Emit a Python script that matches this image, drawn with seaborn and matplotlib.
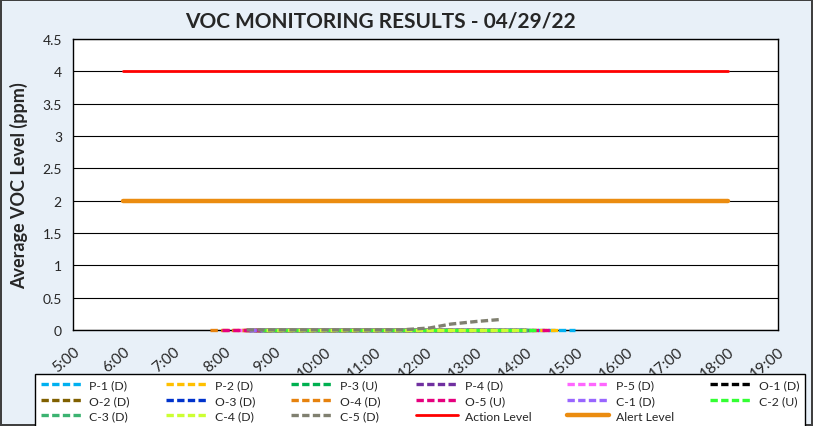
import pandas as pd
import matplotlib.pyplot as plt
import seaborn as sns

# sensor names and colours (legend order)
sensors = ['P-1 (D)', 'P-2 (D)', 'P-3 (U)', 'P-4 (D)', 'P-5 (D)', 'O-1 (D)',
           'O-2 (D)', 'O-3 (D)', 'O-4 (D)', 'O-5 (U)', 'C-1 (D)', 'C-2 (U)',
           'C-3 (D)', 'C-4 (D)', 'C-5 (D)']
colors = ['#00B0F0', '#FFC000', '#00B050', '#7030A0', '#FF66FF', '#000000',
          '#806000', '#0033CC', '#E6820E', '#E6007E', '#9966FF', '#33FF33',
          '#3CB371', '#CCFF33', '#808070']

# readings per sensor (clock time, ppm)
times = {
    'P-1 (D)': ['08:30', '10:00', '11:30', '13:00', '14:58'],
    'P-2 (D)': ['08:20', '10:00', '11:30', '13:00', '14:40'],
    'P-3 (U)': ['08:40', '10:00', '11:30', '13:00', '14:05'],
    'P-4 (D)': ['08:25', '10:00', '11:30', '13:00', '14:00'],
    'P-5 (D)': ['08:15', '10:00', '11:30', '13:00', '14:00'],
    'O-1 (D)': ['08:35', '10:00', '11:30', '13:00', '14:00'],
    'O-2 (D)': ['08:25', '10:00', '11:30', '12:30'],
    'O-3 (D)': ['08:30', '10:00', '11:30', '13:00', '14:00'],
    'O-4 (D)': ['07:43', '09:00', '10:30', '12:00', '13:30'],
    'O-5 (U)': ['07:57', '09:30', '11:00', '12:30', '14:28'],
    'C-1 (D)': ['08:30', '10:00', '11:30', '13:00', '14:00'],
    'C-2 (U)': ['08:45', '10:00', '11:30', '13:00', '14:15'],
    'C-3 (D)': ['08:50', '10:00', '11:30', '13:00', '14:02'],
    'C-4 (D)': ['08:50', '10:00', '11:30', '13:00', '14:00'],
    'C-5 (D)': ['08:27', '09:30', '10:30', '11:30', '12:05', '12:30', '13:00', '13:28'],
}
values = {
    'C-5 (D)': [0.0, 0.0, 0.0, 0.0, 0.03, 0.09, 0.13, 0.16],
}

limit_times = ['06:00', '18:00']
action_level = [4, 4]
alert_level = [2, 2]

hour_ticks = list(range(5, 20))
hour_labels = [f'{h}:00' for h in hour_ticks]


def to_hours(t):
    h, m = t.split(':')
    return int(h) + int(m) / 60


sns.set_style('white')
plt.rcParams['font.family'] = ['Lato', 'DejaVu Sans']

fig = plt.figure(figsize=(8.13, 4.27), dpi=100, facecolor='#E8F0F8',
                 edgecolor='#404040', linewidth=1.5)
ax = fig.add_axes([0.0898, 0.225, 0.867, 0.681])
ax.set_facecolor('white')

for name, col in zip(sensors, colors):
    x = [to_hours(t) for t in times[name]]
    y = values.get(name, [0.0] * len(x))
    df = pd.DataFrame({'time': x, 'ppm': y})
    sns.lineplot(data=df, x='time', y='ppm', ax=ax, color=col, label=name,
                 linewidth=2.4, linestyle=(0, (2.2, 1.0)), clip_on=False, zorder=3)

lx = [to_hours(t) for t in limit_times]
sns.lineplot(x=lx, y=action_level, ax=ax, color='#FF0000', linewidth=2.0,
             label='Action Level', zorder=3)
sns.lineplot(x=lx, y=alert_level, ax=ax, color='#EB8C10', linewidth=3.2,
             label='Alert Level', zorder=3)

ax.set_xlim(5, 19)
ax.set_ylim(0, 4.5)
ax.set_xticks(hour_ticks)
ax.set_xticklabels(hour_labels, rotation=40, ha='right', va='top',
                   rotation_mode='anchor', fontsize=11)
ax.set_yticks([i * 0.5 for i in range(10)])
ax.set_yticklabels(['0', '0.5', '1', '1.5', '2', '2.5', '3', '3.5', '4', '4.5'],
                   fontsize=10)
ax.tick_params(axis='y', length=4, color='black', pad=4)
ax.tick_params(axis='x', length=0, pad=10)
ax.yaxis.grid(True, color='black', linewidth=0.8)
ax.set_axisbelow(True)
for sp in ax.spines.values():
    sp.set_color('black')
    sp.set_linewidth(1.0)
ax.set_xlabel('')
ax.set_ylabel('Average VOC Level (ppm)', fontsize=13, fontweight='bold', labelpad=10)

fig.text(380 / 813, 1 - 22 / 427, 'VOC MONITORING RESULTS - 04/29/22',
         ha='center', va='center', fontsize=15, fontweight='bold')

# legend filled row by row, 6 columns
handles, labels = ax.get_legend_handles_labels()
ax.get_legend().remove()
ncol = 6
nrow = (len(handles) + ncol - 1) // ncol
order = [r * ncol + c for c in range(ncol) for r in range(nrow) if r * ncol + c < len(handles)]
leg_h = 0.2
leg = fig.legend([handles[i] for i in order], [labels[i] for i in order],
                 loc='upper left',
                 bbox_to_anchor=(35 / 813, 1 - 375 / 427 - leg_h, 770 / 813, leg_h),
                 mode='expand', ncol=ncol, fontsize=8.8, frameon=True, fancybox=False,
                 edgecolor='black', facecolor='white', framealpha=1,
                 handlelength=3.4, handletextpad=0.6, borderpad=0.45,
                 labelspacing=0.37, borderaxespad=0)
leg.get_frame().set_linewidth(1.0)

fig.savefig('out.png', dpi=100, facecolor=fig.get_facecolor(), edgecolor=fig.get_edgecolor())
plt.close()
